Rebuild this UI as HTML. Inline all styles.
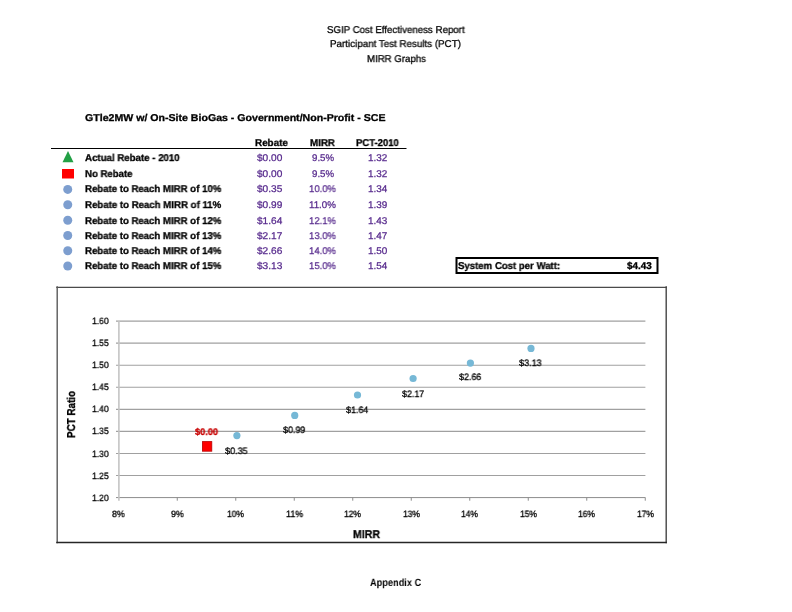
<!DOCTYPE html>
<html><head><meta charset="utf-8"><style>
html,body{margin:0;padding:0;background:#fff;}
body{width:792px;height:612px;position:relative;overflow:hidden;font-family:"Liberation Sans",sans-serif;}
.t{position:absolute;white-space:nowrap;line-height:normal;transform-origin:0 0;will-change:transform;text-rendering:geometricPrecision;}
.t i{display:inline-block;width:0;height:0;vertical-align:baseline;}
svg{position:absolute;left:0;top:0;}
</style></head><body>
<svg width="792" height="612">
<line x1="51" y1="148.5" x2="406.5" y2="148.5" stroke="#000" stroke-width="1"/>
<polygon points="68,151 62.5,162.3 73.5,162.3" fill="#22a045"/>
<rect x="62" y="169" width="12" height="9.5" fill="#ff0000"/>
<g fill="#7d9ecf"><circle cx="67.75" cy="189.40" r="4.5"/><circle cx="67.75" cy="204.70" r="4.5"/><circle cx="67.75" cy="220.20" r="4.5"/><circle cx="67.75" cy="235.50" r="4.5"/><circle cx="67.75" cy="250.70" r="4.5"/><circle cx="67.75" cy="266.00" r="4.5"/></g>
<rect x="456.5" y="258" width="201" height="15" fill="none" stroke="#000" stroke-width="2"/>
<line x1="56.25" y1="287.35" x2="666.9" y2="287.35" stroke="#4a4a4a" stroke-width="1.3"/>
<line x1="57.2" y1="286.35" x2="57.2" y2="543.2" stroke="#5a5a5a" stroke-width="1.4"/>
<line x1="666.2" y1="286.35" x2="666.2" y2="543.2" stroke="#454545" stroke-width="1.4"/>
<line x1="56.25" y1="542.5" x2="666.9" y2="542.5" stroke="#262626" stroke-width="1.3"/>
<g stroke="#a0a0a0" stroke-width="1.1"><line x1="116" y1="321.10" x2="645.40" y2="321.10"/><line x1="116" y1="343.16" x2="645.40" y2="343.16"/><line x1="116" y1="365.22" x2="645.40" y2="365.22"/><line x1="116" y1="387.28" x2="645.40" y2="387.28"/><line x1="116" y1="409.34" x2="645.40" y2="409.34"/><line x1="116" y1="431.40" x2="645.40" y2="431.40"/><line x1="116" y1="453.46" x2="645.40" y2="453.46"/><line x1="116" y1="475.52" x2="645.40" y2="475.52"/></g>
<line x1="116" y1="497.58" x2="645.40" y2="497.58" stroke="#8c8c8c" stroke-width="1"/>
<line x1="118.9" y1="321.10" x2="118.9" y2="500.7" stroke="#c4c4c4" stroke-width="1.6"/>
<g stroke="#8c8c8c" stroke-width="1"><line x1="177.25" y1="497.58" x2="177.25" y2="500.7"/><line x1="235.75" y1="497.58" x2="235.75" y2="500.7"/><line x1="294.25" y1="497.58" x2="294.25" y2="500.7"/><line x1="352.75" y1="497.58" x2="352.75" y2="500.7"/><line x1="411.25" y1="497.58" x2="411.25" y2="500.7"/><line x1="469.75" y1="497.58" x2="469.75" y2="500.7"/><line x1="528.25" y1="497.58" x2="528.25" y2="500.7"/><line x1="586.75" y1="497.58" x2="586.75" y2="500.7"/><line x1="645.25" y1="497.58" x2="645.25" y2="500.7"/></g>
<g fill="#76b8d6"><circle cx="236.90" cy="435.60" r="3.6"/><circle cx="294.75" cy="415.40" r="3.6"/><circle cx="357.50" cy="395.00" r="3.6"/><circle cx="413.10" cy="378.50" r="3.6"/><circle cx="470.40" cy="363.10" r="3.6"/><circle cx="531.00" cy="348.40" r="3.6"/></g>
<rect x="202.4" y="441.6" width="9.4" height="9.6" fill="#ff0000" stroke="#b80000" stroke-width="0.8"/>
</svg>
<div class="t" style="left:326.50px;top:24.71px;font-size:9.90px;font-weight:normal;color:#000;transform:scaleX(0.9818);-webkit-text-stroke:0.30px #000">SGIP Cost Effectiveness Report</div>
<div class="t" style="left:330.20px;top:38.90px;font-size:9.90px;font-weight:normal;color:#000;transform:scaleX(0.9918);-webkit-text-stroke:0.30px #000">Participant Test Results (PCT)</div>
<div class="t" style="left:366.50px;top:53.81px;font-size:9.90px;font-weight:normal;color:#000;transform:scaleX(0.9750);-webkit-text-stroke:0.30px #000">MIRR Graphs</div>
<div class="t" style="left:85.20px;top:112.62px;font-size:9.90px;font-weight:bold;color:#000;transform:scaleX(1.0718);-webkit-text-stroke:0.30px #000">GTle2MW w/ On-Site BioGas - Government/Non-Profit - SCE</div>
<div class="t" style="left:254.85px;top:137.71px;font-size:9.90px;font-weight:bold;color:#000;transform:scaleX(0.9943);-webkit-text-stroke:0.30px #000">Rebate</div>
<div class="t" style="left:310.20px;top:137.71px;font-size:9.90px;font-weight:bold;color:#000;transform:scaleX(0.9867);-webkit-text-stroke:0.30px #000">MIRR</div>
<div class="t" style="left:356.10px;top:137.71px;font-size:9.90px;font-weight:bold;color:#000;transform:scaleX(0.9613);-webkit-text-stroke:0.30px #000">PCT-2010</div>
<div class="t" style="left:85.10px;top:152.81px;font-size:9.90px;font-weight:bold;color:#000;transform:scaleX(0.9808);-webkit-text-stroke:0.30px #000">Actual Rebate - 2010</div>
<div class="t" style="left:85.10px;top:168.90px;font-size:9.90px;font-weight:bold;color:#000;transform:scaleX(0.9725);-webkit-text-stroke:0.30px #000">No Rebate</div>
<div class="t" style="left:85.10px;top:184.01px;font-size:9.90px;font-weight:bold;color:#000;transform:scaleX(0.9736);-webkit-text-stroke:0.30px #000">Rebate to Reach MIRR of 10%</div>
<div class="t" style="left:85.10px;top:199.62px;font-size:9.90px;font-weight:bold;color:#000;transform:scaleX(0.9775);-webkit-text-stroke:0.30px #000">Rebate to Reach MIRR of 11%</div>
<div class="t" style="left:85.10px;top:216.01px;font-size:9.90px;font-weight:bold;color:#000;transform:scaleX(0.9736);-webkit-text-stroke:0.30px #000">Rebate to Reach MIRR of 12%</div>
<div class="t" style="left:85.10px;top:230.90px;font-size:9.90px;font-weight:bold;color:#000;transform:scaleX(0.9736);-webkit-text-stroke:0.30px #000">Rebate to Reach MIRR of 13%</div>
<div class="t" style="left:85.10px;top:245.90px;font-size:9.90px;font-weight:bold;color:#000;transform:scaleX(0.9736);-webkit-text-stroke:0.30px #000">Rebate to Reach MIRR of 14%</div>
<div class="t" style="left:85.10px;top:260.71px;font-size:9.90px;font-weight:bold;color:#000;transform:scaleX(0.9736);-webkit-text-stroke:0.30px #000">Rebate to Reach MIRR of 15%</div>
<div class="t" style="left:256.70px;top:152.81px;font-size:9.70px;font-weight:normal;color:#56298c;transform:scaleX(1.0433);-webkit-text-stroke:0.25px #56298c">$0.00</div>
<div class="t" style="left:311.85px;top:152.81px;font-size:9.70px;font-weight:normal;color:#56298c;transform:scaleX(0.9958);-webkit-text-stroke:0.25px #56298c">9.5%</div>
<div class="t" style="left:367.70px;top:152.81px;font-size:9.70px;font-weight:normal;color:#56298c;transform:scaleX(1.0234);-webkit-text-stroke:0.25px #56298c">1.32</div>
<div class="t" style="left:256.70px;top:168.91px;font-size:9.70px;font-weight:normal;color:#56298c;transform:scaleX(1.0433);-webkit-text-stroke:0.25px #56298c">$0.00</div>
<div class="t" style="left:311.85px;top:168.91px;font-size:9.70px;font-weight:normal;color:#56298c;transform:scaleX(0.9958);-webkit-text-stroke:0.25px #56298c">9.5%</div>
<div class="t" style="left:367.70px;top:168.91px;font-size:9.70px;font-weight:normal;color:#56298c;transform:scaleX(1.0234);-webkit-text-stroke:0.25px #56298c">1.32</div>
<div class="t" style="left:256.70px;top:184.00px;font-size:9.70px;font-weight:normal;color:#56298c;transform:scaleX(1.0433);-webkit-text-stroke:0.25px #56298c">$0.35</div>
<div class="t" style="left:309.30px;top:184.00px;font-size:9.70px;font-weight:normal;color:#56298c;transform:scaleX(0.9793);-webkit-text-stroke:0.25px #56298c">10.0%</div>
<div class="t" style="left:367.70px;top:184.00px;font-size:9.70px;font-weight:normal;color:#56298c;transform:scaleX(1.0234);-webkit-text-stroke:0.25px #56298c">1.34</div>
<div class="t" style="left:256.70px;top:199.61px;font-size:9.70px;font-weight:normal;color:#56298c;transform:scaleX(1.0433);-webkit-text-stroke:0.25px #56298c">$0.99</div>
<div class="t" style="left:309.30px;top:199.61px;font-size:9.70px;font-weight:normal;color:#56298c;transform:scaleX(1.0056);-webkit-text-stroke:0.25px #56298c">11.0%</div>
<div class="t" style="left:367.70px;top:199.61px;font-size:9.70px;font-weight:normal;color:#56298c;transform:scaleX(1.0234);-webkit-text-stroke:0.25px #56298c">1.39</div>
<div class="t" style="left:256.70px;top:216.00px;font-size:9.70px;font-weight:normal;color:#56298c;transform:scaleX(1.0433);-webkit-text-stroke:0.25px #56298c">$1.64</div>
<div class="t" style="left:309.30px;top:216.00px;font-size:9.70px;font-weight:normal;color:#56298c;transform:scaleX(0.9793);-webkit-text-stroke:0.25px #56298c">12.1%</div>
<div class="t" style="left:367.70px;top:216.00px;font-size:9.70px;font-weight:normal;color:#56298c;transform:scaleX(1.0234);-webkit-text-stroke:0.25px #56298c">1.43</div>
<div class="t" style="left:256.70px;top:230.91px;font-size:9.70px;font-weight:normal;color:#56298c;transform:scaleX(1.0433);-webkit-text-stroke:0.25px #56298c">$2.17</div>
<div class="t" style="left:309.30px;top:230.91px;font-size:9.70px;font-weight:normal;color:#56298c;transform:scaleX(0.9793);-webkit-text-stroke:0.25px #56298c">13.0%</div>
<div class="t" style="left:367.70px;top:230.91px;font-size:9.70px;font-weight:normal;color:#56298c;transform:scaleX(1.0234);-webkit-text-stroke:0.25px #56298c">1.47</div>
<div class="t" style="left:256.70px;top:245.91px;font-size:9.70px;font-weight:normal;color:#56298c;transform:scaleX(1.0433);-webkit-text-stroke:0.25px #56298c">$2.66</div>
<div class="t" style="left:309.30px;top:245.91px;font-size:9.70px;font-weight:normal;color:#56298c;transform:scaleX(0.9793);-webkit-text-stroke:0.25px #56298c">14.0%</div>
<div class="t" style="left:367.70px;top:245.91px;font-size:9.70px;font-weight:normal;color:#56298c;transform:scaleX(1.0234);-webkit-text-stroke:0.25px #56298c">1.50</div>
<div class="t" style="left:256.70px;top:260.72px;font-size:9.70px;font-weight:normal;color:#56298c;transform:scaleX(1.0433);-webkit-text-stroke:0.25px #56298c">$3.13</div>
<div class="t" style="left:309.30px;top:260.72px;font-size:9.70px;font-weight:normal;color:#56298c;transform:scaleX(0.9793);-webkit-text-stroke:0.25px #56298c">15.0%</div>
<div class="t" style="left:367.70px;top:260.72px;font-size:9.70px;font-weight:normal;color:#56298c;transform:scaleX(1.0234);-webkit-text-stroke:0.25px #56298c">1.54</div>
<div class="t" style="left:457.70px;top:260.76px;font-size:9.90px;font-weight:bold;color:#000;transform:scaleX(0.9725);-webkit-text-stroke:0.30px #000">System Cost per Watt:</div>
<div class="t" style="left:626.50px;top:260.76px;font-size:9.90px;font-weight:bold;color:#000;transform:scaleX(1.0053);-webkit-text-stroke:0.30px #000">$4.43</div>
<div class="t" style="left:92.30px;top:492.66px;font-size:9.10px;font-weight:normal;color:#000;transform:scaleX(0.9433);-webkit-text-stroke:0.30px #000">1.20</div>
<div class="t" style="left:92.30px;top:470.60px;font-size:9.10px;font-weight:normal;color:#000;transform:scaleX(0.9433);-webkit-text-stroke:0.30px #000">1.25</div>
<div class="t" style="left:92.30px;top:448.54px;font-size:9.10px;font-weight:normal;color:#000;transform:scaleX(0.9433);-webkit-text-stroke:0.30px #000">1.30</div>
<div class="t" style="left:92.30px;top:426.49px;font-size:9.10px;font-weight:normal;color:#000;transform:scaleX(0.9433);-webkit-text-stroke:0.30px #000">1.35</div>
<div class="t" style="left:92.30px;top:404.43px;font-size:9.10px;font-weight:normal;color:#000;transform:scaleX(0.9433);-webkit-text-stroke:0.30px #000">1.40</div>
<div class="t" style="left:92.30px;top:382.36px;font-size:9.10px;font-weight:normal;color:#000;transform:scaleX(0.9433);-webkit-text-stroke:0.30px #000">1.45</div>
<div class="t" style="left:92.30px;top:360.30px;font-size:9.10px;font-weight:normal;color:#000;transform:scaleX(0.9433);-webkit-text-stroke:0.30px #000">1.50</div>
<div class="t" style="left:92.30px;top:338.24px;font-size:9.10px;font-weight:normal;color:#000;transform:scaleX(0.9433);-webkit-text-stroke:0.30px #000">1.55</div>
<div class="t" style="left:92.30px;top:316.18px;font-size:9.10px;font-weight:normal;color:#000;transform:scaleX(0.9433);-webkit-text-stroke:0.30px #000">1.60</div>
<div class="t" style="left:112.22px;top:509.11px;font-size:9.10px;font-weight:normal;color:#000;transform:scaleX(0.9691);-webkit-text-stroke:0.30px #000">8%</div>
<div class="t" style="left:170.72px;top:509.11px;font-size:9.10px;font-weight:normal;color:#000;transform:scaleX(0.9691);-webkit-text-stroke:0.30px #000">9%</div>
<div class="t" style="left:227.10px;top:509.11px;font-size:9.10px;font-weight:normal;color:#000;transform:scaleX(0.9339);-webkit-text-stroke:0.30px #000">10%</div>
<div class="t" style="left:285.60px;top:509.11px;font-size:9.10px;font-weight:normal;color:#000;transform:scaleX(0.9697);-webkit-text-stroke:0.30px #000">11%</div>
<div class="t" style="left:344.10px;top:509.11px;font-size:9.10px;font-weight:normal;color:#000;transform:scaleX(0.9339);-webkit-text-stroke:0.30px #000">12%</div>
<div class="t" style="left:402.60px;top:509.11px;font-size:9.10px;font-weight:normal;color:#000;transform:scaleX(0.9339);-webkit-text-stroke:0.30px #000">13%</div>
<div class="t" style="left:461.10px;top:509.11px;font-size:9.10px;font-weight:normal;color:#000;transform:scaleX(0.9339);-webkit-text-stroke:0.30px #000">14%</div>
<div class="t" style="left:519.60px;top:509.11px;font-size:9.10px;font-weight:normal;color:#000;transform:scaleX(0.9339);-webkit-text-stroke:0.30px #000">15%</div>
<div class="t" style="left:578.10px;top:509.11px;font-size:9.10px;font-weight:normal;color:#000;transform:scaleX(0.9339);-webkit-text-stroke:0.30px #000">16%</div>
<div class="t" style="left:636.60px;top:509.11px;font-size:9.10px;font-weight:normal;color:#000;transform:scaleX(0.9339);-webkit-text-stroke:0.30px #000">17%</div>
<div class="t" style="left:225.20px;top:445.72px;font-size:9.30px;font-weight:normal;color:#000;transform:scaleX(0.9735);-webkit-text-stroke:0.30px #000">$0.35</div>
<div class="t" style="left:283.35px;top:424.51px;font-size:9.30px;font-weight:normal;color:#000;transform:scaleX(0.9606);-webkit-text-stroke:0.30px #000">$0.99</div>
<div class="t" style="left:345.85px;top:404.51px;font-size:9.30px;font-weight:normal;color:#000;transform:scaleX(0.9606);-webkit-text-stroke:0.30px #000">$1.64</div>
<div class="t" style="left:401.85px;top:388.51px;font-size:9.30px;font-weight:normal;color:#000;transform:scaleX(0.9563);-webkit-text-stroke:0.30px #000">$2.17</div>
<div class="t" style="left:459.00px;top:372.31px;font-size:9.30px;font-weight:normal;color:#000;transform:scaleX(0.9606);-webkit-text-stroke:0.30px #000">$2.66</div>
<div class="t" style="left:519.35px;top:357.91px;font-size:9.30px;font-weight:normal;color:#000;transform:scaleX(0.9735);-webkit-text-stroke:0.30px #000">$3.13</div>
<div class="t" style="left:195.20px;top:427.10px;font-size:9.50px;font-weight:bold;color:#c80000;transform:scaleX(0.9671);-webkit-text-stroke:0.30px #c80000">$0.00</div>
<div class="t" style="left:353.10px;top:528.76px;font-size:11.30px;font-weight:bold;color:#000;transform:scaleX(0.9351);-webkit-text-stroke:0.30px #000">MIRR</div>
<div class="t" style="left:369.90px;top:576.80px;font-size:10.50px;font-weight:bold;color:#000;transform:scaleX(0.8776)">Appendix C</div>
<div class="t" style="left:65.69px;top:438.40px;font-size:11.50px;font-weight:bold;color:#000;transform:rotate(-90deg) scaleX(0.8553);-webkit-text-stroke:0.30px #000">PCT Ratio</div>
</body></html>
